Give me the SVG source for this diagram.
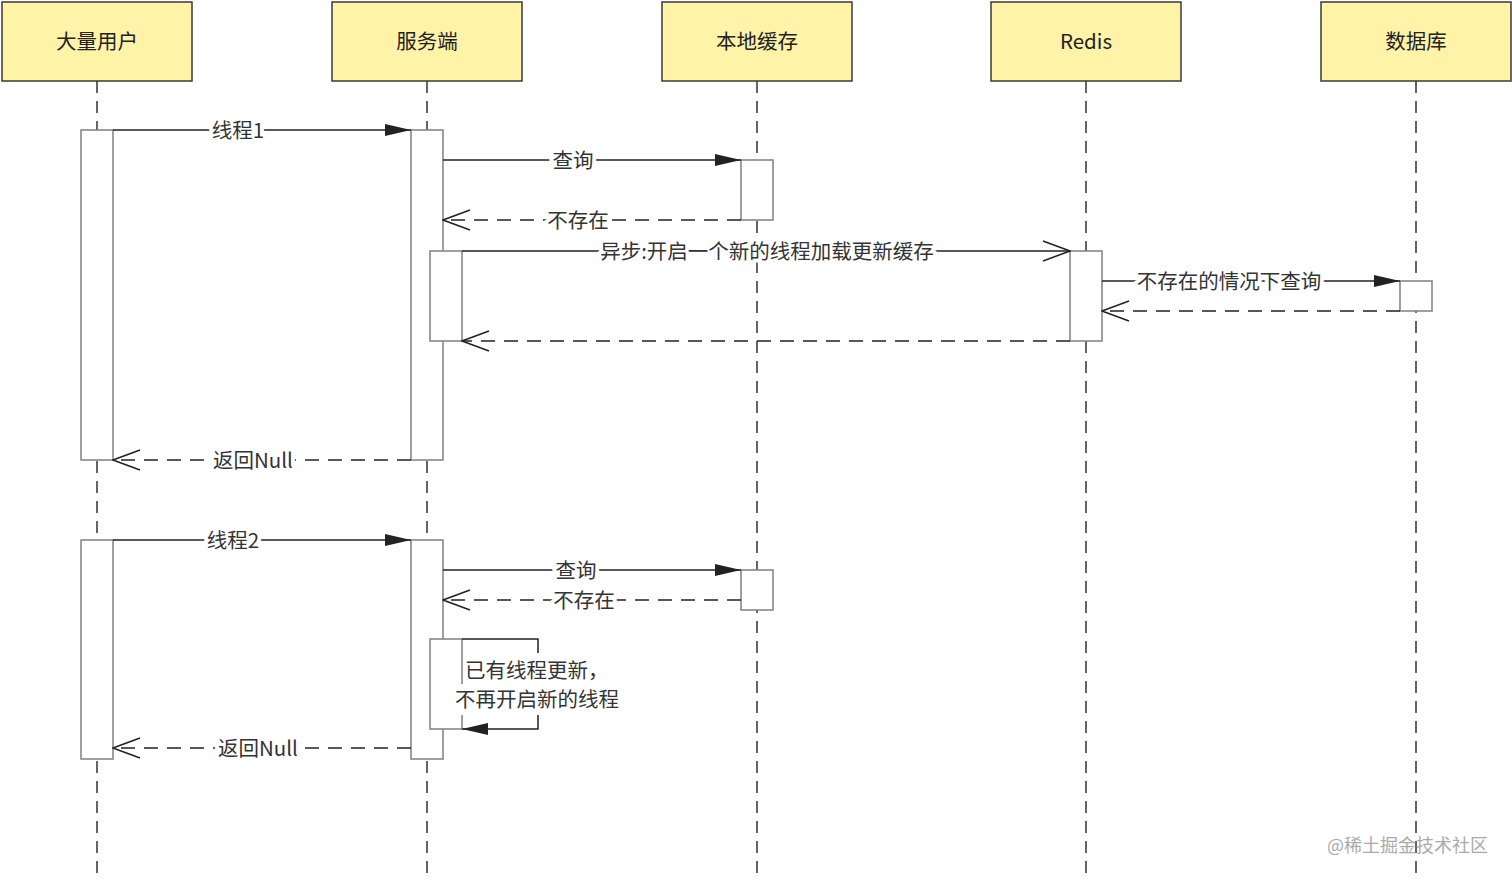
<svg xmlns="http://www.w3.org/2000/svg" width="1512" height="881" viewBox="0 0 1512 881">
<style>
text{font-family:"Noto Sans CJK SC","Noto Sans",sans-serif;fill:#333;}
.hdr rect{fill:#fff3a8;stroke:#3a3a3a;stroke-width:1.5;}
.hdr text{font-size:20.5px;text-anchor:middle;fill:#222;}
.life{stroke:#333;stroke-width:1.5;stroke-dasharray:12 8;fill:none;}
.act{fill:#fff;stroke:#808080;stroke-width:1.5;}
.msg{stroke:#222;stroke-width:1.5;fill:none;}
.ret{stroke:#222;stroke-width:1.5;fill:none;stroke-dasharray:14 9;}
.lbl{font-size:20.5px;text-anchor:middle;stroke:#fff;stroke-width:8;paint-order:stroke;stroke-linejoin:round;}
.note{font-size:20.5px;}
</style>
<defs>
<marker id="fill" markerWidth="26" markerHeight="14" refX="26" refY="7" orient="auto" markerUnits="userSpaceOnUse">
<path d="M0,1 L26,7 L0,13 Z" fill="#222"/>
</marker>
<marker id="open" markerWidth="30" markerHeight="24" refX="29" refY="12" orient="auto" markerUnits="userSpaceOnUse">
<path d="M2,2 L29,12 L2,22" fill="none" stroke="#222" stroke-width="1.5"/>
</marker>
</defs>
<rect width="1512" height="881" fill="#fff"/>
<g id="lifelines">
<line class="life" x1="97" y1="81" x2="97" y2="881"/>
<line class="life" x1="427" y1="81" x2="427" y2="881"/>
<line class="life" x1="757" y1="81" x2="757" y2="881"/>
<line class="life" x1="1086" y1="81" x2="1086" y2="881"/>
<line class="life" x1="1416" y1="81" x2="1416" y2="881"/>
</g>
<g id="user" class="hdr"><rect x="2" y="2" width="190" height="79"/><text x="97" y="49">大量用户</text></g>
<g id="server" class="hdr"><rect x="332" y="2" width="190" height="79"/><text x="427" y="49">服务端</text></g>
<g id="localcache" class="hdr"><rect x="662" y="2" width="190" height="79"/><text x="757" y="49">本地缓存</text></g>
<g id="redis" class="hdr"><rect x="991" y="2" width="190" height="79"/><text x="1086" y="49">Redis</text></g>
<g id="db" class="hdr"><rect x="1321" y="2" width="190" height="79"/><text x="1416" y="49">数据库</text></g>
<g id="activations">
<rect class="act" x="81" y="130" width="32" height="330"/>
<rect class="act" x="81" y="540" width="32" height="219"/>
<rect class="act" x="411" y="130" width="32" height="330"/>
<rect class="act" x="430" y="251" width="32" height="90"/>
<rect class="act" x="411" y="540" width="32" height="219"/>
<rect class="act" x="430" y="639" width="32" height="90"/>
<rect class="act" x="741" y="160" width="32" height="60"/>
<rect class="act" x="741" y="570" width="32" height="40"/>
<rect class="act" x="1070" y="251" width="32" height="90"/>
<rect class="act" x="1400" y="281" width="32" height="30"/>
</g>
<g id="connectors">
<line class="msg" x1="113" y1="130" x2="411" y2="130" marker-end="url(#fill)"/>
<text class="lbl" x="238" y="138">线程1</text>
<line class="msg" x1="443" y1="160" x2="741" y2="160" marker-end="url(#fill)"/>
<text class="lbl" x="573" y="168">查询</text>
<line class="ret" x1="741" y1="220" x2="443" y2="220" marker-end="url(#open)"/>
<text class="lbl" x="578" y="228">不存在</text>
<line class="msg" x1="462" y1="251" x2="1070" y2="251" marker-end="url(#open)"/>
<text class="lbl" x="767" y="259">异步:开启一个新的线程加载更新缓存</text>
<line class="msg" x1="1102" y1="281" x2="1400" y2="281" marker-end="url(#fill)"/>
<text class="lbl" x="1229" y="289">不存在的情况下查询</text>
<line class="ret" x1="1400" y1="311" x2="1102" y2="311" marker-end="url(#open)"/>
<line class="ret" x1="1070" y1="341" x2="462" y2="341" marker-end="url(#open)"/>
<line class="ret" x1="411" y1="460" x2="113" y2="460" marker-end="url(#open)"/>
<text class="lbl" x="253" y="468">返回Null</text>
<line class="msg" x1="113" y1="540" x2="411" y2="540" marker-end="url(#fill)"/>
<text class="lbl" x="233" y="548">线程2</text>
<line class="msg" x1="443" y1="570" x2="741" y2="570" marker-end="url(#fill)"/>
<text class="lbl" x="576" y="578">查询</text>
<line class="ret" x1="741" y1="600" x2="443" y2="600" marker-end="url(#open)"/>
<text class="lbl" x="584" y="608">不存在</text>
<path class="msg" d="M462,639 H538 V729 H462" marker-end="url(#fill)"/>
<line class="ret" x1="411" y1="748" x2="113" y2="748" marker-end="url(#open)"/>
<text class="lbl" x="258" y="756">返回Null</text>
</g>
<g id="selfnote">
<rect x="463" y="653" width="142" height="32" fill="#fff"/>
<rect x="453" y="684" width="170" height="31" fill="#fff"/>
<text class="note" x="465" y="678">已有线程更新，</text>
<text class="note" x="455" y="707">不再开启新的线程</text>
</g>
<text x="1327" y="852" style="font-size:18px;fill:#aaa;">@稀土掘金技术社区</text>
</svg>
